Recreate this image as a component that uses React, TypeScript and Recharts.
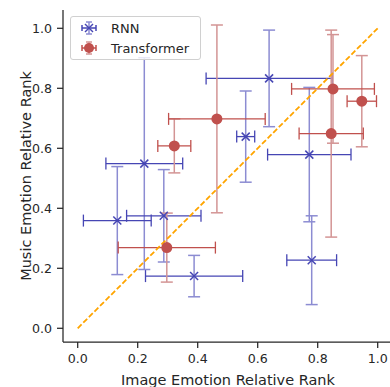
import React from "react";
import {
  ScatterChart,
  Scatter,
  XAxis,
  YAxis,
  ErrorBar,
  ReferenceLine,
} from "recharts";

const rnnX = [0.638, 0.222, 0.132, 0.287, 0.388, 0.78, 0.772, 0.56];
const rnnY = [0.833, 0.549, 0.359, 0.375, 0.174, 0.227, 0.579, 0.639];
const rnnXErr = [0.21, 0.128, 0.113, 0.124, 0.162, 0.083, 0.139, 0.03];
const rnnYErr = [0.161, 0.353, 0.18, 0.154, 0.069, 0.148, 0.224, 0.152];

const trfX = [0.322, 0.464, 0.297, 0.851, 0.845, 0.947];
const trfY = [0.608, 0.698, 0.269, 0.798, 0.649, 0.757];
const trfXErr = [0.055, 0.161, 0.162, 0.138, 0.107, 0.049];
const trfYErr = [0.09, 0.313, 0.115, 0.181, 0.345, 0.152];

const ticks = [0, 0.2, 0.4, 0.6, 0.8, 1.0];
const diagonal = [{ x: 0, y: 0 }, { x: 1, y: 1 }];

const BLUE = "#4646b4";
const BLUE_LIGHT = "#8c8cd2";
const RED = "#c0504d";
const RED_LIGHT = "#d39494";
const INK = "#262626";
const FONT = "'DejaVu Sans', sans-serif";

const build = (xs: number[], ys: number[], exs: number[], eys: number[]) =>
  xs.map((x, i) => ({ x, y: ys[i], ex: exs[i], ey: eys[i] }));

const rnn = build(rnnX, rnnY, rnnXErr, rnnYErr);
const trf = build(trfX, trfY, trfXErr, trfYErr);

const XMark = (p: any) => {
  const { cx, cy } = p;
  const s = 4;
  return (
    <g>
      <line x1={cx - s} y1={cy - s} x2={cx + s} y2={cy + s} stroke={BLUE} strokeWidth={1.5} />
      <line x1={cx - s} y1={cy + s} x2={cx + s} y2={cy - s} stroke={BLUE} strokeWidth={1.5} />
    </g>
  );
};

const Dot = (p: any) => <circle cx={p.cx} cy={p.cy} r={5.5} fill={RED} />;

const LegendGlyph: React.FC<{ kind: "x" | "o" }> = ({ kind }) => {
  const c = kind === "x" ? BLUE : RED;
  const cl = kind === "x" ? BLUE_LIGHT : RED_LIGHT;
  return (
    <svg width={20} height={16} style={{ display: "block" }}>
      <line x1={10} y1={2} x2={10} y2={14} stroke={cl} strokeWidth={1.5} />
      <line x1={7} y1={2} x2={13} y2={2} stroke={cl} strokeWidth={1.5} />
      <line x1={7} y1={14} x2={13} y2={14} stroke={cl} strokeWidth={1.5} />
      <line x1={3} y1={8} x2={17} y2={8} stroke={c} strokeWidth={1.5} />
      <line x1={3} y1={5} x2={3} y2={11} stroke={c} strokeWidth={1.5} />
      <line x1={17} y1={5} x2={17} y2={11} stroke={c} strokeWidth={1.5} />
      {kind === "x" ? (
        <g stroke={c} strokeWidth={1.5}>
          <line x1={6} y1={4} x2={14} y2={12} />
          <line x1={6} y1={12} x2={14} y2={4} />
        </g>
      ) : (
        <circle cx={10} cy={8} r={5} fill={c} />
      )}
    </svg>
  );
};

const App: React.FC = () => {
  return (
    <div style={{ position: "absolute", left: 0, top: 0, width: 390, height: 387, overflow: "hidden", background: "#fff", fontFamily: FONT }}>
      <ScatterChart width={390} height={387} margin={{ top: 10, right: 0, bottom: 0, left: 0 }}>
        <XAxis
          type="number"
          dataKey="x"
          domain={[-0.049, 1.041]}
          allowDataOverflow
          ticks={ticks}
          tickFormatter={(v: number) => v.toFixed(1)}
          height={45}
          tickSize={6}
          tickMargin={6}
          stroke={INK}
          strokeWidth={1.25}
          tick={{ fill: INK, fontSize: 12.6, fontFamily: FONT }}
          label={() => (
            <text x={228} y={385} textAnchor="middle" fill={INK} fontSize={14.5} fontFamily={FONT}>
              Image Emotion Relative Rank
            </text>
          )}
        />
        <YAxis
          type="number"
          dataKey="y"
          domain={[-0.0457, 1.061]}
          allowDataOverflow
          ticks={ticks}
          tickFormatter={(v: number) => v.toFixed(1)}
          width={63}
          tickSize={6}
          tickMargin={5}
          stroke={INK}
          strokeWidth={1.25}
          tick={{ fill: INK, fontSize: 12.6, fontFamily: FONT }}
          label={() => (
            <text x={31} y={176} transform="rotate(-90 31 176)" textAnchor="middle" fill={INK} fontSize={14.5} fontFamily={FONT}>
              Music Emotion Relative Rank
            </text>
          )}
        />
        <Scatter name="RNN" data={rnn} shape={XMark} isAnimationActive={false}>
          <ErrorBar dataKey="ey" direction="y" width={6} stroke={BLUE_LIGHT} strokeWidth={1.5} />
          <ErrorBar dataKey="ex" direction="x" width={6} stroke={BLUE} strokeWidth={1.3} />
        </Scatter>
        <Scatter name="Transformer" data={trf} shape={Dot} isAnimationActive={false}>
          <ErrorBar dataKey="ey" direction="y" width={6} stroke={RED_LIGHT} strokeWidth={1.5} />
          <ErrorBar dataKey="ex" direction="x" width={6} stroke={RED} strokeWidth={1.3} />
        </Scatter>
        <ReferenceLine segment={diagonal} stroke="#ffa500" strokeWidth={1.8} strokeDasharray="5.5 2.4" ifOverflow="visible" />
      </ScatterChart>
      <div
        style={{
          position: "absolute",
          left: 70,
          top: 16,
          width: 131,
          height: 44,
          boxSizing: "border-box",
          border: "1px solid #d0d0d0",
          borderRadius: 3,
          background: "rgba(255,255,255,0.8)",
          fontSize: 13,
          color: INK,
        }}
      >
        <div style={{ position: "absolute", left: 8, top: 3, display: "flex", alignItems: "center", gap: 12 }}>
          <LegendGlyph kind="x" />
          <span>RNN</span>
        </div>
        <div style={{ position: "absolute", left: 8, top: 23, display: "flex", alignItems: "center", gap: 12 }}>
          <LegendGlyph kind="o" />
          <span>Transformer</span>
        </div>
      </div>
    </div>
  );
};

export default App;
